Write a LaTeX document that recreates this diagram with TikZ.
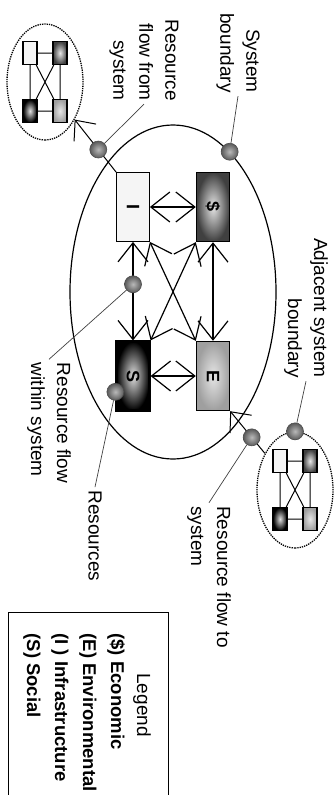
\documentclass[tikz,border=0pt]{standalone}
\usepackage{fontspec}
\setmainfont{Liberation Sans}
\usetikzlibrary{arrows.meta,positioning,shapes.geometric}

\begin{document}
\begin{tikzpicture}[x=1pt,y=1pt,every node/.style={font=\fontsize{19}{26}\selectfont},
sector/.style={draw=black,line width=1.4pt,minimum width=69,minimum height=33,inner sep=0pt,font=\bfseries\fontsize{18}{18}\selectfont},
minibox/.style={draw=black,line width=1.2pt,minimum width=23,minimum height=14,inner sep=0pt},
econ/.style={inner color=gray!20,outer color=black!75},
infra/.style={fill=gray!8},
env/.style={inner color=gray!20,outer color=gray!75},
soc/.style={inner color=gray!25,outer color=black},
sysbound/.style={ellipse,draw,line width=1.2pt,minimum width=334,minimum height=206,inner sep=0pt},
adjbound/.style={ellipse,draw,densely dotted,line width=1.3pt,minimum width=116,minimum height=76,inner sep=0pt},
rdot/.style={circle,minimum size=17,inner sep=0pt,line width=0.6pt,draw=gray!60!black,inner color=gray!55,outer color=gray!70!black},
flow/.style={{Straight Barb[length=19pt,width=30pt]}-{Straight Barb[length=19pt,width=30pt]},line width=1.2pt},
outflow/.style={-{Straight Barb[length=16pt,width=28pt]},line width=1pt},
minilink/.style={line width=1pt},
leader/.style={line width=0.7pt,draw=black!75},
lgdframe/.style={draw,line width=1pt,minimum width=186,minimum height=160,inner sep=0pt},
lgditems/.style={align=left,font=\bfseries\fontsize{18.5}{28}\selectfont}]
\useasboundingbox (0,0) rectangle (336,-795);
\begin{scope}[rotate=-90,transform shape]
% the system and its four sectors
\node[sysbound] (sys) at (292,173) {};
\node[sector,econ] (econ) at (207,213) {\$};
\node[sector,infra,line width=0.8pt] (infra) at (207,133) {I};
\node[sector,env] (env) at (376,213) {E};
\node[sector,soc,line width=2.2pt] (soc) at (376,133) {S};
\draw[flow] (econ) -- (infra);
\draw[flow] (env) -- (soc);
\draw[flow] (econ) -- (env);
\draw[flow] (infra) -- node[rdot,pos=0.43] (wdot) {} (soc);
\draw[flow] (infra.north east) -- (env.south west);
\draw[flow] (econ.south east) -- (soc.north west);
\node[rdot] (bdot) at (sys.158) {};
\node[rdot] (resdot) at (soc.-48) {};

% adjacent systems
\foreach \n/\u/\v in {adja/82/45,adjb/490/295}{
  \node[adjbound] (\n) at (\u,\v) {};
  \node[minibox,econ] (\n-d) at ({\u-29},{\v+15}) {};
  \node[minibox,infra] (\n-i) at ({\u-29},{\v-15}) {};
  \node[minibox,env] (\n-e) at ({\u+29},{\v+15}) {};
  \node[minibox,soc] (\n-s) at ({\u+29},{\v-15}) {};
  \draw[minilink] (\n-d) -- (\n-i) (\n-d) -- (\n-e) (\n-i) -- (\n-s) (\n-e) -- (\n-s)
    (\n-d) -- (\n-s) (\n-i) -- (\n-e);
}
\draw[outflow] (infra.south west) -- node[rdot,pos=0.43] (fromdot) {} (adja);
\draw[outflow] (adjb) -- node[rdot,pos=0.38] (todot) {} (env.north east);
\node[rdot] (adjdot) at (adjb.west) {};

% labels
\node[align=right] (bndlbl) at (53,238) {System\\boundary};
\node[align=right] (fromlbl) at (60,144) {Resource\\flow from\\system};
\node[align=right] (adjlbl) at (308,306) {Adjacent system\\boundary};
\node[align=left] (withinlbl) at (423,49) {Resource flow\\within system};
\node (reslbl) at (536,95) {Resources};
\node[align=left] (tolbl) at (577,209) {Resource flow to\\system};
\draw[leader] (bndlbl.east) -- (bdot);
\draw[leader] (fromlbl.east) -- (fromdot);
\draw[leader] (adjlbl.east) -- (adjdot);
\draw[leader] (wdot) -- (withinlbl.west);
\draw[leader] (resdot) -- (reslbl.west);
\draw[leader] (todot) -- (tolbl.west);

% legend
\node[lgdframe] (lgd) at (705,88) {};
\node (lgdttl) at (705,142) {Legend};
\node[lgditems,anchor=west] (lgdtxt) at (630,74) {(\$) Economic\\(E) Environmental\\(I ) Infrastructure\\(S) Social};
\end{scope}
\end{tikzpicture}
\end{document}
